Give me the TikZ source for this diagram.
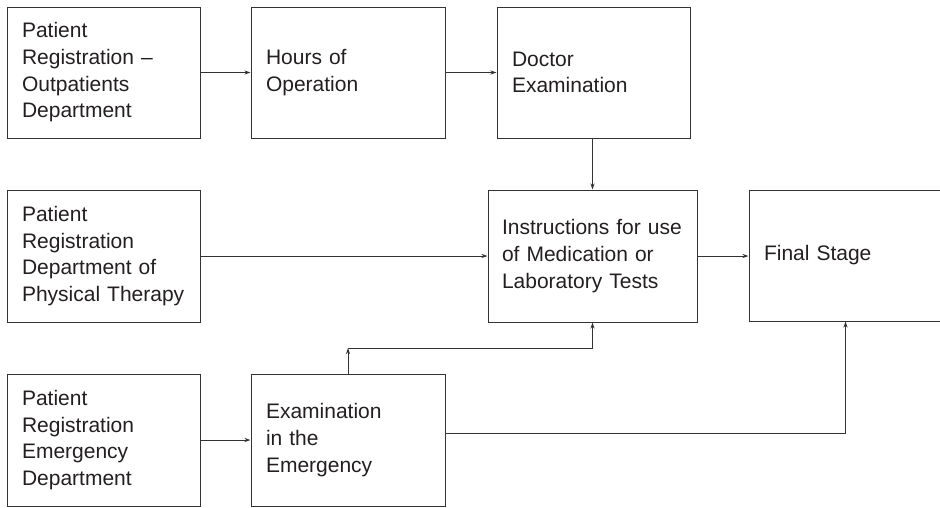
\documentclass[tikz,border=0pt]{standalone}
\usepackage{fontspec}
\setmainfont{Liberation Sans}
\usetikzlibrary{arrows.meta}
\definecolor{ink}{HTML}{231F20}
\definecolor{linec}{HTML}{333333}
\begin{document}
\begin{tikzpicture}[x=1pt,y=-1pt,
  box/.style={draw=linec, line width=1pt, rectangle, inner xsep=15pt, inner ysep=0pt,
    align=left, text=ink, font=\fontsize{21}{26.7}\selectfont},
  arr/.style={draw=linec, line width=1pt, -{Stealth[length=6pt,width=4pt]}}]
\useasboundingbox (0,0) rectangle (940,507);
\node[box, text width=163pt, minimum height=131pt] (A) at (103.5,72.5) {Patient\\Registration –\\Outpatients\\Department};
\node[box, text width=164pt, minimum height=131pt] (B) at (348,72.5) {Hours of\\Operation};
\node[box, text width=163pt, minimum height=131pt] (C) at (593.5,72.5) {Doctor\\Examination};
\node[box, text width=181pt, inner xsep=14pt, minimum height=132pt] (D) at (592.5,256) {Instructions for use\\of Medication or\\Laboratory Tests};
\node[box, text width=163pt, minimum height=131pt] (E) at (845.5,255.5) {Final Stage};
\node[box, text width=163pt, minimum height=132pt] (F) at (103.5,256) {Patient\\Registration\\Department of\\Physical Therapy};
\node[box, text width=163pt, minimum height=132pt] (G) at (103.5,440) {Patient\\Registration\\Emergency\\Department};
\node[box, text width=164pt, minimum height=132pt] (H) at (348,440) {Examination\\in the\\Emergency};
\coordinate (k) at (348,348);
\draw[arr] (A) -- (B);
\draw[arr] (B) -- (C);
\draw[arr] (C.south -| D.north) -- (D.north);
\draw[arr] (F.east) -- (F.east -| D.west);
\draw[arr] (D.east) -- (D.east -| E.west);
\draw[arr] (G) -- (H);
\draw[arr] (H.north) -- (k);
\draw[arr] (k) -- (k -| D.south) -- (D.south);
\draw[arr] ([yshift=7pt]H.east) -- ([yshift=7pt]H.east -| E.south) -- (E.south);
\end{tikzpicture}
\end{document}
